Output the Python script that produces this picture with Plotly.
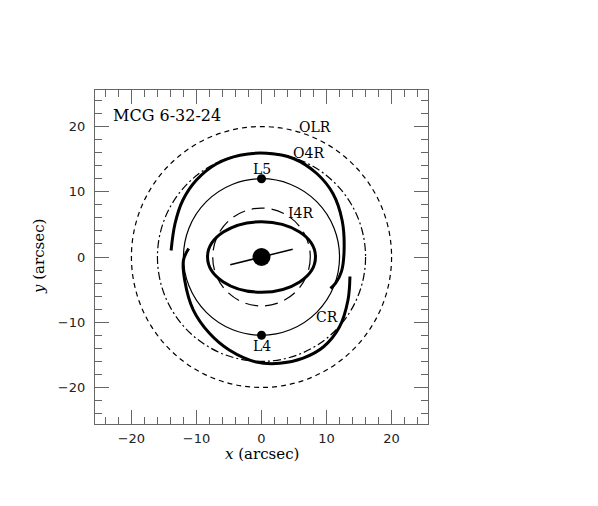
import plotly.graph_objects as go

# resonance radii (arcsec)
res_names = ["OLR", "O4R", "CR", "I4R"]
res_radii = [20.0, 16.0, 12.0, 7.5]
res_dash = ["5px,4px", "8px,3px,2px,3px", "solid", "13px,7px"]

# label positions
label_text = ["MCG 6-32-24", "OLR", "O4R", "L5", "I4R", "CR", "L4"]
label_x = [-23.2, 8.3, 7.2, 0.0, 6.0, 10.0, 0.0]
label_y = [21.7, 19.9, 15.9, 13.5, 6.7, -9.2, -13.6]

# thick spiral arms
arm1_x = [-13.9, -13.3, -12.1, -10.0, -6.9, -3.3, 0.8, 4.9, 8.5, 11.0, 12.4, 12.7, 12.3, 11.4, 10.6]
arm1_y = [1.0, 5.1, 8.7, 11.8, 14.3, 15.6, 15.9, 15.1, 12.8, 9.7, 5.6, 1.0, -2.2, -4.0, -4.8]
arm2_x = [13.6, 13.3, 12.0, 9.5, 6.4, 2.8, -0.8, -4.9, -8.0, -10.5, -11.8, -12.0, -11.2]
arm2_y = [-3.0, -6.6, -10.7, -13.8, -15.5, -16.3, -16.1, -14.3, -11.7, -8.1, -3.6, -0.5, 1.3]

# inner ellipse semi-axes
ell_a, ell_b = 8.3, 5.4

# bar
bar_x = [-4.8, 4.8]
bar_y = [-1.2, 1.2]

# Lagrange points
lag_x = [0.0, 0.0]
lag_y = [12.0, -12.0]

fig = go.Figure()

for r, d in zip(res_radii, res_dash):
    fig.add_shape(type="circle", xref="x", yref="y", x0=-r, y0=-r, x1=r, y1=r,
                  line=dict(color="black", width=1.2, dash=d))

fig.add_shape(type="circle", xref="x", yref="y", x0=-ell_a, y0=-ell_b, x1=ell_a, y1=ell_b,
              line=dict(color="black", width=3))

for ax_, ay_ in [(arm1_x, arm1_y), (arm2_x, arm2_y)]:
    fig.add_trace(go.Scatter(x=ax_, y=ay_, mode="lines",
                             line=dict(color="black", width=3, shape="spline", smoothing=1.0),
                             showlegend=False, hoverinfo="skip"))

fig.add_trace(go.Scatter(x=bar_x, y=bar_y, mode="lines",
                         line=dict(color="black", width=1.5), showlegend=False))
fig.add_trace(go.Scatter(x=[0], y=[0], mode="markers",
                         marker=dict(color="black", size=18), showlegend=False))
fig.add_trace(go.Scatter(x=lag_x, y=lag_y, mode="markers",
                         marker=dict(color="black", size=9), showlegend=False))

for i, (t, lx, ly) in enumerate(zip(label_text, label_x, label_y)):
    fig.add_annotation(x=lx, y=ly, text=t, showarrow=False,
                       xanchor="left" if i == 0 else "center",
                       font=dict(family="DejaVu Serif", size=16 if i == 0 else 14, color="black"))

fig.add_annotation(xref="paper", yref="paper", x=0.5, y=0, yshift=-30, text="<i>x</i> (arcsec)",
                   showarrow=False, yanchor="middle",
                   font=dict(family="DejaVu Serif", size=15, color="black"))
fig.add_annotation(xref="paper", yref="paper", x=0, y=0.5, xshift=-56, text="<i>y</i> (arcsec)",
                   showarrow=False, textangle=-90, xanchor="center",
                   font=dict(family="DejaVu Serif", size=15, color="black"))

axis = dict(range=[-25.6, 25.6], showgrid=False, zeroline=False,
            showline=True, linecolor="#666", linewidth=1.2, mirror="ticks",
            ticks="inside", ticklen=14, tickwidth=1.2, tickcolor="#666",
            tick0=0, dtick=10,
            minor=dict(ticks="inside", ticklen=7, tickwidth=1.2, tickcolor="#666", dtick=2, tick0=0),
            tickfont=dict(family="DejaVu Sans", size=13, color="#222"))

fig.update_xaxes(**axis, ticklabelstandoff=2)
fig.update_yaxes(**axis, ticklabelstandoff=6)

# page body adds 8px offset, so trim figure size accordingly
fig.update_layout(width=590, height=498, margin=dict(l=87, r=170, t=82, b=82),
                  plot_bgcolor="white", paper_bgcolor="white")

fig.write_html("out.html")
